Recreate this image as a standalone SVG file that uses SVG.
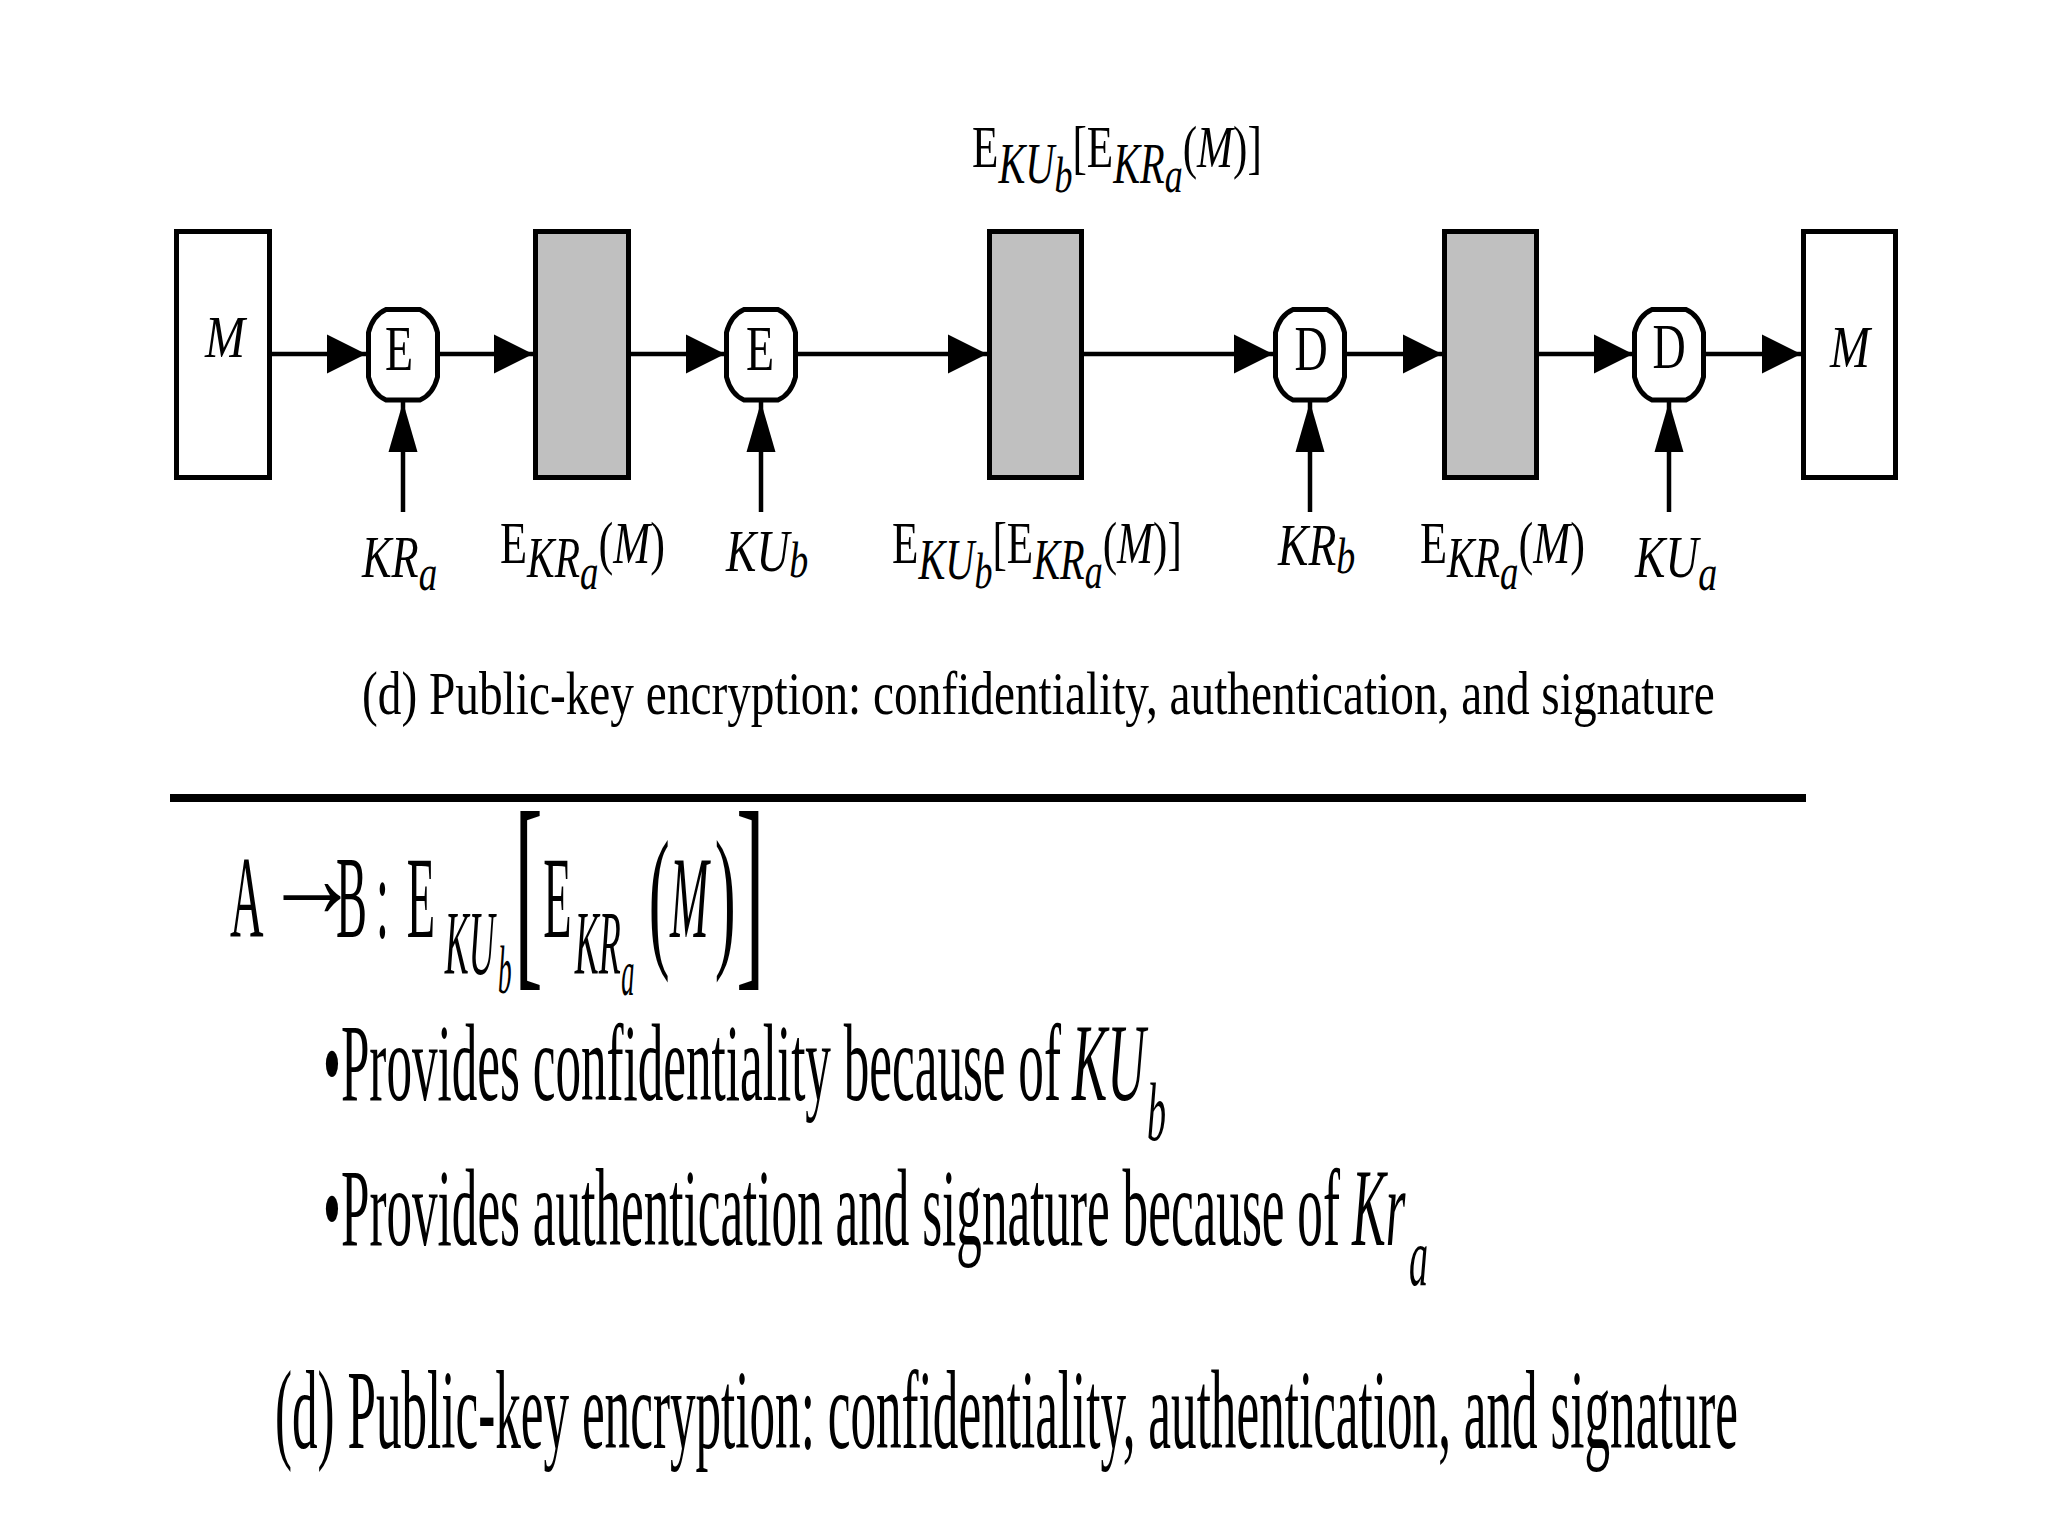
<svg xmlns="http://www.w3.org/2000/svg" width="2048" height="1536" viewBox="0 0 2048 1536">
<style>
text{font-family:"Liberation Serif","Times New Roman",serif;fill:#000}
.box{fill:#fff;stroke:#000;stroke-width:5}
.gray{fill:#c0c0c0;stroke:#000;stroke-width:5}
.op{fill:#fff;stroke:#000;stroke-width:5}
.conn{stroke:#000;stroke-width:4.5;fill:none}
.lbl{font-size:60px}
.opt{font-size:63px;text-anchor:middle}
.i{font-style:italic}
.s{font-size:56px}
.ss{font-size:50px}
.big{font-size:110px}
.sub{font-size:83px}
</style>
<defs>
<marker id="ah" markerUnits="userSpaceOnUse" markerWidth="40" markerHeight="40" refX="39" refY="19.5" orient="auto" overflow="visible"><path d="M0,0 L39,19.5 L0,39 z" fill="#000"/></marker>
<marker id="av" markerUnits="userSpaceOnUse" markerWidth="50" markerHeight="30" refX="50" refY="14.5" orient="auto" overflow="visible"><path d="M0,0 L50,14.5 L0,29 z" fill="#000"/></marker>
<path id="opShape" d="M-17,-45.25 H17 Q30.1,-39.5 34.5,-22.25 V22.25 Q30.1,39.5 17,45.25 H-17 Q-30.1,39.5 -34.5,22.25 V-22.25 Q-30.1,-39.5 -17,-45.25 Z"/>
</defs>
<rect width="2048" height="1536" fill="#fff"/>

<g id="connectors">
<path class="conn" marker-end="url(#ah)" d="M272,354 H366"/>
<path class="conn" marker-end="url(#ah)" d="M440,354 H533"/>
<path class="conn" marker-end="url(#ah)" d="M631,354 H725"/>
<path class="conn" marker-end="url(#ah)" d="M797,354 H987"/>
<path class="conn" marker-end="url(#ah)" d="M1084,354 H1273"/>
<path class="conn" marker-end="url(#ah)" d="M1347,354 H1442"/>
<path class="conn" marker-end="url(#ah)" d="M1539,354 H1633"/>
<path class="conn" marker-end="url(#ah)" d="M1705,354 H1801"/>
<path class="conn" marker-end="url(#av)" d="M403,512 V402"/>
<path class="conn" marker-end="url(#av)" d="M761,512 V402"/>
<path class="conn" marker-end="url(#av)" d="M1310,512 V402"/>
<path class="conn" marker-end="url(#av)" d="M1669,512 V402"/>
</g>

<g id="m-src">
<rect class="box" x="176.5" y="231.5" width="93" height="246"/>
<text class="lbl i" transform="translate(205,357) scale(0.8,1)">M</text>
</g>
<g id="enc1">
<use href="#opShape" class="op" x="403" y="354.75"/>
<text class="opt" transform="translate(399,370) scale(0.73,1)">E</text>
</g>
<g id="c1">
<rect class="gray" x="535.5" y="231.5" width="93" height="246"/>
</g>
<g id="enc2">
<use href="#opShape" class="op" x="761" y="354.75"/>
<text class="opt" transform="translate(760,370) scale(0.73,1)">E</text>
</g>
<g id="c2">
<rect class="gray" x="989.5" y="231.5" width="92" height="246"/>
</g>
<g id="dec1">
<use href="#opShape" class="op" x="1310" y="354.75"/>
<text class="opt" transform="translate(1311,370) scale(0.73,1)">D</text>
</g>
<g id="c3">
<rect class="gray" x="1444.5" y="231.5" width="92" height="246"/>
</g>
<g id="dec2">
<use href="#opShape" class="op" x="1669" y="354.75"/>
<text class="opt" transform="translate(1669,368) scale(0.73,1)">D</text>
</g>
<g id="m-dst">
<rect class="box" x="1803.5" y="231.5" width="92" height="246"/>
<text class="lbl i" transform="translate(1830,367) scale(0.8,1)">M</text>
</g>

<g id="labels">
<text class="lbl" transform="translate(972,167) scale(0.72,1)">E<tspan class="i s" dy="16">KU</tspan><tspan class="i ss" dy="9">b</tspan><tspan dy="-25">[E</tspan><tspan class="i s" dy="16">KR</tspan><tspan class="i ss" dy="9">a</tspan><tspan dy="-25">(</tspan><tspan class="i">M</tspan>)]</text>
<text class="lbl" transform="translate(362,577) scale(0.74,1)"><tspan class="i">KR</tspan><tspan class="i ss" dy="13">a</tspan></text>
<text class="lbl" transform="translate(500,563) scale(0.74,1)">E<tspan class="i s" dy="14">KR</tspan><tspan class="i ss" dy="12">a</tspan><tspan dy="-26">(</tspan><tspan class="i">M</tspan>)</text>
<text class="lbl" transform="translate(726,571) scale(0.76,1)"><tspan class="i">KU</tspan><tspan class="i ss" dy="6">b</tspan></text>
<text class="lbl" transform="translate(892,563) scale(0.72,1)">E<tspan class="i s" dy="16">KU</tspan><tspan class="i ss" dy="9">b</tspan><tspan dy="-25">[E</tspan><tspan class="i s" dy="16">KR</tspan><tspan class="i ss" dy="9">a</tspan><tspan dy="-25">(</tspan><tspan class="i">M</tspan>)]</text>
<text class="lbl" transform="translate(1278,565) scale(0.76,1)"><tspan class="i">KR</tspan><tspan class="i ss" dy="8">b</tspan></text>
<text class="lbl" transform="translate(1420,563) scale(0.74,1)">E<tspan class="i s" dy="14">KR</tspan><tspan class="i ss" dy="12">a</tspan><tspan dy="-26">(</tspan><tspan class="i">M</tspan>)</text>
<text class="lbl" transform="translate(1635,577) scale(0.76,1)"><tspan class="i">KU</tspan><tspan class="i ss" dy="13">a</tspan></text>
</g>

<text id="caption-top" transform="translate(362,714) scale(0.76,1)" font-size="62" textLength="1780" lengthAdjust="spacingAndGlyphs">(d) Public-key encryption: confidentiality, authentication, and signature</text>

<line x1="170" y1="798" x2="1806" y2="798" stroke="#000" stroke-width="8"/>

<g id="formula">
<text transform="scale(0.4,1)" font-size="116"><tspan x="575" y="937">A</tspan></text>
<text transform="translate(264,917) scale(0.83,1)" font-size="116" letter-spacing="-36">→</text>
<text transform="scale(0.4,1)" font-size="116"><tspan x="840" y="937">B</tspan><tspan x="940" y="937">:</tspan><tspan x="1017" y="937">E</tspan><tspan class="i" font-size="90" x="1112" y="974">KU</tspan><tspan class="i" font-size="68" x="1245" y="993">b</tspan><tspan font-size="216" x="1285" y="961">[</tspan><tspan x="1358" y="937">E</tspan><tspan class="i" font-size="90" x="1437" y="974">KR</tspan><tspan class="i" font-size="66" x="1553" y="995">a</tspan><tspan font-size="157" x="1622" y="949">(</tspan><tspan class="i" x="1675" y="937">M</tspan><tspan font-size="157" x="1787" y="949">)</tspan><tspan font-size="216" x="1840" y="961">]</tspan></text>
</g>

<g id="bullets">
<text class="big" transform="translate(323,1100) scale(0.465,1)" textLength="1587" lengthAdjust="spacingAndGlyphs">•Provides confidentiality because of</text>
<text class="big i" transform="translate(1072,1100) scale(0.48,1)">KU</text>
<text class="sub i" transform="translate(1147,1140) scale(0.46,1)">b</text>
<text class="big" transform="translate(323,1245) scale(0.465,1)" textLength="2187" lengthAdjust="spacingAndGlyphs">•Provides authentication and signature because of</text>
<text class="big i" transform="translate(1352,1245) scale(0.46,1)">Kr</text>
<text class="sub i" transform="translate(1409,1285) scale(0.46,1)">a</text>
</g>

<text id="caption-bottom" transform="translate(275,1448) scale(0.45,1)" font-size="113" textLength="3251" lengthAdjust="spacingAndGlyphs">(d) Public-key encryption: confidentiality, authentication, and signature</text>
</svg>
